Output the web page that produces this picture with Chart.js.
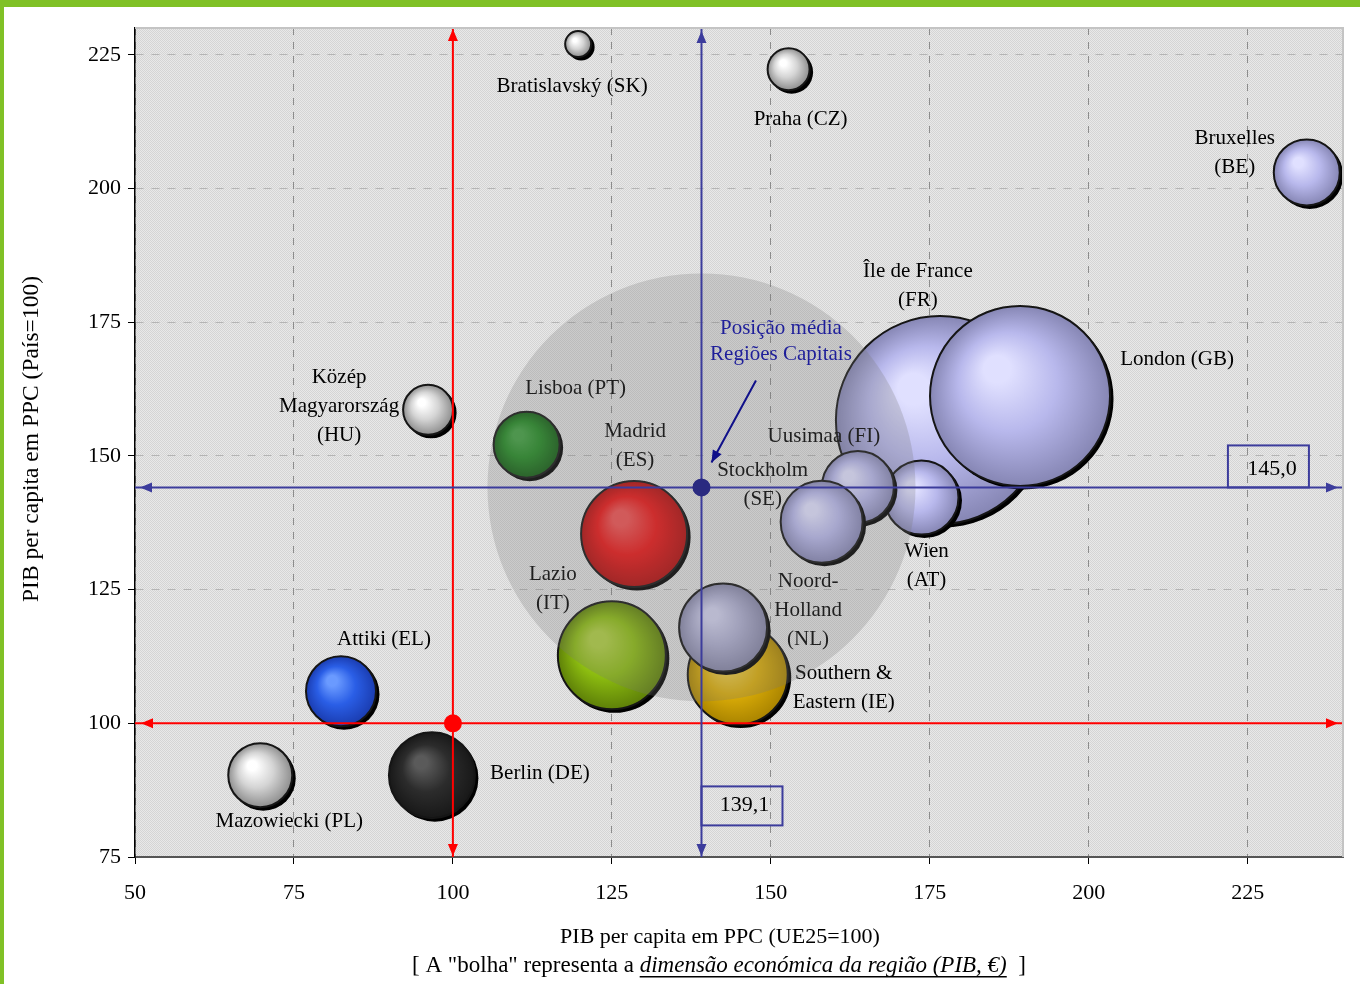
<!DOCTYPE html>
<html>
<head>
<meta charset="utf-8">
<title>Regiões Capitais</title>
<script src="https://cdn.jsdelivr.net/npm/chart.js@4.4.1/dist/chart.umd.min.js"></script>
<style>
  html, body { margin: 0; padding: 0; background: #fff; }
  #wrap { position: relative; width: 1360px; height: 984px; }
  #topbar { position: absolute; left: 0; top: 0; width: 1360px; height: 7px; background: #80c126; }
  #leftbar { position: absolute; left: 0; top: 0; width: 4px; height: 984px; background: #80c126; }
</style>
</head>
<body>
<div id="wrap">
  <canvas id="chart"></canvas>
  <div id="topbar"></div>
  <div id="leftbar"></div>
</div>
<script>
// back to front drawing order
let regions = ["Île de France (FR)", "London (GB)", "Wien (AT)", "Uusimaa (FI)", "Stockholm (SE)",
  "Madrid (ES)", "Lisboa (PT)", "Közép Magyarország (HU)", "Southern & Eastern (IE)", "Noord-Holland (NL)",
  "Lazio (IT)", "Bratislavský (SK)", "Praha (CZ)", "Bruxelles (BE)", "Attiki (EL)", "Berlin (DE)", "Mazowiecki (PL)"];
let regionLabels = ["Île de France\n(FR)", "London (GB)", "Wien\n(AT)", "Uusimaa (FI)", "Stockholm\n(SE)",
  "Madrid\n(ES)", "Lisboa (PT)", "Közép\nMagyarország\n(HU)", "Southern &\nEastern (IE)", "Noord-\nHolland\n(NL)",
  "Lazio\n(IT)", "Bratislavský (SK)", "Praha (CZ)", "Bruxelles\n(BE)", "Attiki (EL)", "Berlin (DE)", "Mazowiecki (PL)"];
// PIB per capita em PPC (UE25=100)
let pibUE = [176.6, 189.2, 173.7, 163.7, 158.0, 128.5, 111.6, 96.1, 144.8, 142.5, 125.0, 119.7, 152.8, 234.3, 82.4, 96.7, 69.7];
// PIB per capita em PPC (País=100)
let pibPais = [156.7, 161.2, 142.2, 144.2, 137.7, 135.4, 152.1, 158.6, 109.1, 117.9, 112.7, 227.0, 222.3, 203.0, 106.0, 90.3, 90.3];
// dimensão económica (bubble radius)
let dimensao = [104, 90, 37, 36, 41, 53, 33, 25, 50, 44, 54, 13, 21, 33, 35, 43, 32];

// posição média das regiões capitais (as drawn) and its labels
let mediaX = 139.1;
let mediaY = 144.1;
let mediaXLabel = "139,1";
let mediaYLabel = "145,0";
let referencia = 100;

let xTicks = [50, 75, 100, 125, 150, 175, 200, 225];
let yTicks = [75, 100, 125, 150, 175, 200, 225];

// [highlight, base, edge]
let palette = {
  lav: ["#e0e0ff", "#b8b8ec", "#8686b4"],
  nl: ["#d0d0ee", "#adadd0", "#8484a6"],
  white: ["#ffffff", "#d4d4d4", "#8e8e8e"],
  red: ["#f05050", "#ea1414", "#b00c0c"],
  green: ["#40a040", "#228a22", "#125c12"],
  olive: ["#b0d040", "#8cbc10", "#5e8008"],
  gold: ["#f0d050", "#dcae08", "#aa8400"],
  blue: ["#6a9aff", "#2a5ee6", "#1a3cb0"],
  black: ["#5a5a5a", "#2c2c2c", "#181818"]
};
let bubbleColors = ["lav", "lav", "lav", "lav", "lav", "red", "green", "white", "gold", "nl",
  "olive", "white", "white", "lav", "blue", "black", "white"];

// label offsets from bubble centre in px (x, y of first line)
let labelOffsets = [[-22, -149], [157, -36], [5, 54], [-34, -50], [-59, -51],
  [1, -102], [49, -56], [-89, -32], [106, -1], [85, -46],
  [-59, -81], [-6, 42], [12, 50], [-72, -34], [43, -52], [108, -2], [29, 46]];

let lineH = 29;
let serif = "'Liberation Serif', 'Times New Roman', serif";
let labelFont = "21px " + serif;

function bubbleFill(ctx, i) {
  let chart = ctx.chart;
  let c = palette[bubbleColors[i]];
  if (!chart.chartArea) return c[1];
  let px = chart.scales.x.getPixelForValue(pibUE[i]);
  let py = chart.scales.y.getPixelForValue(pibPais[i]);
  let r = dimensao[i];
  let g = chart.ctx.createRadialGradient(px - r * 0.3, py - r * 0.35, 0, px, py, r);
  g.addColorStop(0, c[0]);
  g.addColorStop(0.15, c[0]);
  g.addColorStop(0.55, c[1]);
  g.addColorStop(1, c[2]);
  return g;
}

let datasets = [];
let N = regions.length;
for (let i = 0; i < N; i++) {
  datasets.push({
    type: "bubble",
    label: regions[i],
    data: [{ x: pibUE[i], y: pibPais[i], r: dimensao[i] }],
    backgroundColor: (ctx) => bubbleFill(ctx, i),
    borderColor: "#151515",
    borderWidth: 2,
    order: 100 + N - i,
    clip: false,
    isRegion: true
  });
}
// grey area round the mean position
datasets.push({
  type: "bubble",
  label: "media",
  data: [{ x: mediaX, y: mediaY, r: 214 }],
  backgroundColor: "rgba(118,118,118,0.26)",
  borderWidth: 0,
  order: 50,
  isOverlay: true
});
// reference lines
datasets.push({ type: "line", label: "ref x", data: [{ x: referencia, y: 75 }, { x: referencia, y: 230 }],
  borderColor: "#ff0000", borderWidth: 2, pointRadius: 0, order: 30 });
datasets.push({ type: "line", label: "ref y", data: [{ x: 50, y: referencia }, { x: 240, y: referencia }],
  borderColor: "#ff0000", borderWidth: 2, pointRadius: 0, order: 30 });
datasets.push({ type: "line", label: "media x", data: [{ x: mediaX, y: 75 }, { x: mediaX, y: 230 }],
  borderColor: "#3c3c9c", borderWidth: 2, pointRadius: 0, order: 29 });
datasets.push({ type: "line", label: "media y", data: [{ x: 50, y: mediaY }, { x: 240, y: mediaY }],
  borderColor: "#3c3c9c", borderWidth: 2, pointRadius: 0, order: 29 });
datasets.push({ type: "scatter", label: "ponto ref", data: [{ x: referencia, y: referencia }],
  backgroundColor: "#ff0000", borderWidth: 0, pointRadius: 9, order: 10 });
datasets.push({ type: "scatter", label: "ponto media", data: [{ x: mediaX, y: mediaY }],
  backgroundColor: "#2a2a80", borderWidth: 0, pointRadius: 9, order: 10 });

// plot background pattern
function makePattern() {
  let c = document.createElement("canvas");
  c.width = 2; c.height = 2;
  let p = c.getContext("2d");
  p.fillStyle = "#e8e8e8"; p.fillRect(0, 0, 2, 2);
  p.fillStyle = "#d4d4d4"; p.fillRect(0, 0, 1, 1); p.fillRect(1, 1, 1, 1);
  return p.createPattern(c, "repeat");
}

function arrowHead(ctx, x, y, dx, dy, color) {
  let len = 12, w = 5;
  let nx = -dy, ny = dx;
  ctx.beginPath();
  ctx.moveTo(x, y);
  ctx.lineTo(x - dx * len + nx * w, y - dy * len + ny * w);
  ctx.lineTo(x - dx * len - nx * w, y - dy * len - ny * w);
  ctx.closePath();
  ctx.fillStyle = color;
  ctx.fill();
}

let extras = {
  id: "extras",
  beforeDraw(chart) {
    let { ctx, chartArea: a } = chart;
    ctx.save();
    ctx.fillStyle = makePattern();
    ctx.fillRect(a.left, a.top, a.right - a.left, a.bottom - a.top);
    ctx.restore();
  },
  beforeDatasetDraw(chart, args) {
    let ds = chart.data.datasets[args.index];
    let ctx = chart.ctx;
    if (ds.isRegion) {
      // black drop shadow under each bubble
      let el = args.meta.data[0];
      ctx.save();
      ctx.fillStyle = "#000";
      ctx.beginPath();
      ctx.arc(el.x + 3, el.y + 3, dimensao[args.index] + 0.5, 0, Math.PI * 2);
      ctx.fill();
      ctx.restore();
    }
    if (ds.isOverlay) {
      // region labels go under the grey area
      ctx.save();
      ctx.font = labelFont;
      ctx.fillStyle = "#000";
      ctx.textAlign = "center";
      ctx.textBaseline = "middle";
      for (let i = 0; i < N; i++) {
        let px = chart.scales.x.getPixelForValue(pibUE[i]);
        let py = chart.scales.y.getPixelForValue(pibPais[i]);
        let lines = regionLabels[i].split("\n");
        lines.forEach((t, k) => {
          ctx.fillText(t, px + labelOffsets[i][0], py + labelOffsets[i][1] + k * lineH);
        });
      }
      ctx.restore();
    }
  },
  afterDatasetsDraw(chart) {
    let { ctx, chartArea: a, scales } = chart;
    let xs = scales.x, ys = scales.y;
    let rx = xs.getPixelForValue(referencia), ry = ys.getPixelForValue(referencia);
    let mx = xs.getPixelForValue(mediaX), my = ys.getPixelForValue(mediaY);
    ctx.save();
    // arrow heads
    arrowHead(ctx, rx, a.top + 1, 0, -1, "#ff0000");
    arrowHead(ctx, rx, a.bottom - 1, 0, 1, "#ff0000");
    arrowHead(ctx, a.left + 6, ry, -1, 0, "#ff0000");
    arrowHead(ctx, a.right - 5, ry, 1, 0, "#ff0000");
    arrowHead(ctx, mx, a.top + 3, 0, -1, "#3c3c9c");
    arrowHead(ctx, mx, a.bottom - 1, 0, 1, "#3c3c9c");
    arrowHead(ctx, a.left + 5, my, -1, 0, "#3c3c9c");
    arrowHead(ctx, a.right - 5, my, 1, 0, "#3c3c9c");

    // value boxes
    let by = ys.getPixelForValue(88.2);
    let bx = xs.getPixelForValue(221.9);
    ctx.strokeStyle = "#3c3c9c";
    ctx.lineWidth = 2;
    ctx.strokeRect(mx, by, 81, 39);
    ctx.strokeRect(bx, my - 42, 81, 42);
    ctx.font = "22px " + serif;
    ctx.fillStyle = "#000";
    ctx.textAlign = "center";
    ctx.textBaseline = "middle";
    ctx.fillText(mediaXLabel, mx + 43, by + 19);
    ctx.fillText(mediaYLabel, bx + 44, my - 18);

    // annotation
    ctx.font = labelFont;
    ctx.fillStyle = "#1e1e9a";
    let ax = xs.getPixelForValue(151.6), ay = ys.getPixelForValue(173.8);
    ctx.fillText("Posição média", ax, ay);
    ctx.fillText("Regiões Capitais", ax, ay + 26);
    let x1 = ax - 25, y1 = ay + 52, x2 = mx + 10, y2 = my - 25;
    ctx.strokeStyle = "#10108a";
    ctx.beginPath();
    ctx.moveTo(x1, y1);
    ctx.lineTo(x2, y2);
    ctx.stroke();
    let d = Math.hypot(x2 - x1, y2 - y1);
    arrowHead(ctx, x2, y2, (x2 - x1) / d, (y2 - y1) / d, "#10108a");

    // frame top / right
    ctx.strokeStyle = "#c4c4c4";
    ctx.lineWidth = 2;
    ctx.beginPath();
    ctx.moveTo(a.left, a.top);
    ctx.lineTo(a.right, a.top);
    ctx.lineTo(a.right, a.bottom);
    ctx.stroke();
    ctx.restore();
  },
  afterDraw(chart) {
    let { ctx } = chart;
    ctx.save();
    ctx.fillStyle = "#000";
    ctx.textAlign = "center";
    ctx.textBaseline = "middle";
    ctx.font = "22px " + serif;
    ctx.fillText("PIB per capita em PPC (UE25=100)", 720, 937);
    // subtitle with italic underlined part
    let p1 = "[ A \"bolha\" representa a ";
    let p2 = "dimensão económica da região (PIB, €)";
    let p3 = "  ]";
    ctx.font = "23px " + serif;
    let w1 = ctx.measureText(p1).width, w3 = ctx.measureText(p3).width;
    ctx.font = "italic 23px " + serif;
    let w2 = ctx.measureText(p2).width;
    let sx = 719 - (w1 + w2 + w3) / 2;
    ctx.textAlign = "left";
    ctx.font = "23px " + serif;
    ctx.fillText(p1, sx, 966);
    ctx.font = "italic 23px " + serif;
    ctx.fillText(p2, sx + w1, 966);
    ctx.fillRect(sx + w1, 976, w2, 1.5);
    ctx.font = "23px " + serif;
    ctx.fillText(p3, sx + w1 + w2, 966);
    // y title
    ctx.translate(32, 439);
    ctx.rotate(-Math.PI / 2);
    ctx.textAlign = "center";
    ctx.font = "23.5px " + serif;
    ctx.fillText("PIB per capita em PPC (País=100)", 0, 0);
    ctx.restore();
  }
};

let tickFont = { family: serif, size: 22 };

new Chart(document.getElementById("chart"), {
  type: "bubble",
  data: { datasets: datasets },
  options: {
    responsive: true,
    maintainAspectRatio: false,
    animation: false,
    events: [],
    layout: { autoPadding: false, padding: { left: 8, top: 28, right: 17, bottom: 0 } },
    plugins: { legend: { display: false }, tooltip: { enabled: false } },
    scales: {
      x: {
        type: "linear",
        min: 50,
        max: 240,
        afterFit: (s) => { s.height = 127; },
        afterBuildTicks: (s) => { s.ticks = xTicks.map((v) => ({ value: v })); },
        ticks: { font: tickFont, color: "#000", padding: 16, maxRotation: 0 },
        grid: { color: "#8c8c8c", lineWidth: 1, tickColor: "#000", tickLength: 7 },
        border: { color: "#555", width: 2, dash: [7, 7] }
      },
      y: {
        type: "linear",
        min: 75,
        max: 230,
        afterFit: (s) => { s.width = 127; },
        afterBuildTicks: (s) => { s.ticks = yTicks.map((v) => ({ value: v })); },
        ticks: { font: tickFont, color: "#000", padding: 7 },
        grid: { color: "#b4b4b4", lineWidth: 1, tickColor: "#000", tickLength: 7 },
        border: { color: "#000", width: 1.5, dash: [8, 8] }
      }
    }
  },
  plugins: [extras]
});
</script>
</body>
</html>
